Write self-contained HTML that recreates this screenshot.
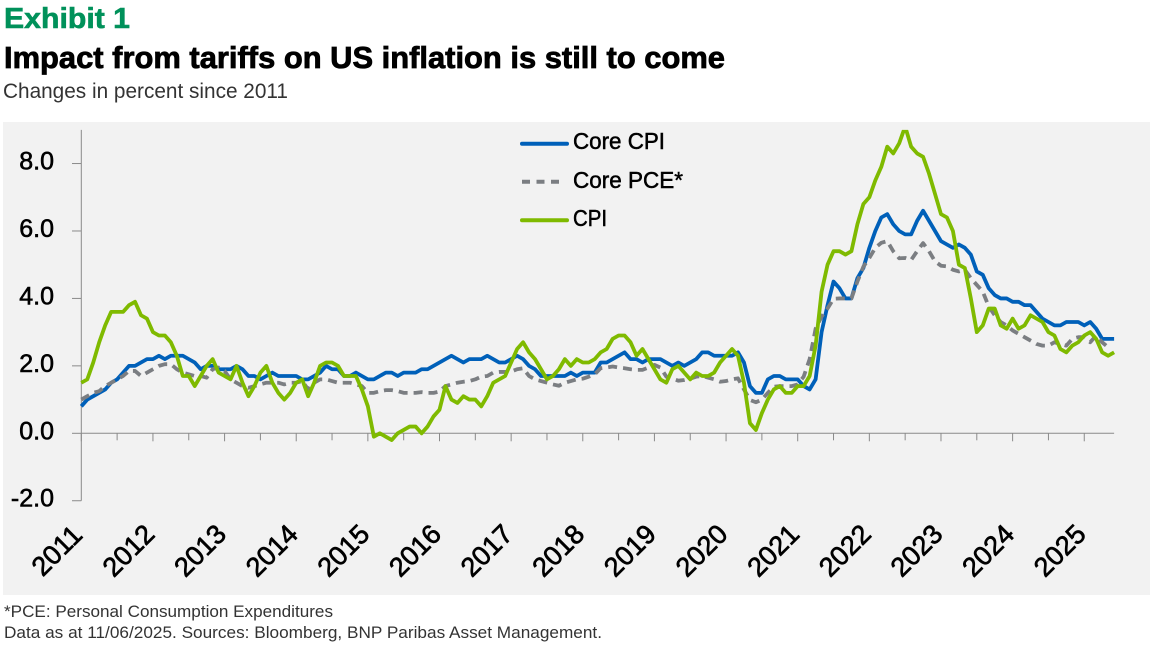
<!DOCTYPE html>
<html lang="en">
<head>
<meta charset="utf-8">
<title>Impact from tariffs on US inflation is still to come</title>
<style>
html,body{margin:0;padding:0;background:#fff;width:1153px;height:645px;overflow:hidden}
svg{display:block;font-family:"Liberation Sans",sans-serif}
</style>
</head>
<body>
<svg id="chart" xmlns="http://www.w3.org/2000/svg" width="1153" height="645" viewBox="0 0 1153 645">
  <text x="4" y="28" font-size="29" font-weight="700" fill="#00915a" stroke="#00915a" stroke-width="0.6" textLength="126" lengthAdjust="spacingAndGlyphs">Exhibit 1</text>
  <text x="4" y="68" font-size="31" font-weight="700" fill="#000" stroke="#000" stroke-width="0.8" textLength="721" lengthAdjust="spacingAndGlyphs">Impact from tariffs on US inflation is still to come</text>
  <text x="3" y="98" font-size="21" fill="#333" textLength="285" lengthAdjust="spacingAndGlyphs">Changes in percent since 2011</text>
  <rect x="3" y="122" width="1147" height="473" fill="#f2f2f2"/>
  <g id="axes"></g>
  <g id="series"></g>
  <g id="legend"></g>
  <text x="4" y="617" font-size="17" fill="#333" textLength="329" lengthAdjust="spacingAndGlyphs">*PCE: Personal Consumption Expenditures</text>
  <text x="4" y="638" font-size="17" fill="#333" textLength="598" lengthAdjust="spacingAndGlyphs">Data as at 11/06/2025. Sources: Bloomberg, BNP Paribas Asset Management.</text>
</svg>
<script>
const yearLabels = ["2011","2012","2013","2014","2015","2016","2017","2018","2019","2020","2021","2022","2023","2024","2025"];
const yTickValues = [8,6,4,2,0,-2];
const seriesNames = ["Core CPI","Core PCE*","CPI"];
const coreCpi = [0.8,
1.0,1.1,1.2,1.3,1.5,1.6,1.8,2.0,2.0,2.1,2.2,2.2,
2.3,2.2,2.3,2.3,2.3,2.2,2.1,1.9,2.0,2.0,1.9,1.9,
1.9,2.0,1.9,1.7,1.7,1.6,1.7,1.8,1.7,1.7,1.7,1.7,
1.6,1.6,1.7,1.8,2.0,1.9,1.9,1.7,1.7,1.8,1.7,1.6,
1.6,1.7,1.8,1.8,1.7,1.8,1.8,1.8,1.9,1.9,2.0,2.1,
2.2,2.3,2.2,2.1,2.2,2.2,2.2,2.3,2.2,2.1,2.1,2.2,
2.3,2.2,2.0,1.9,1.7,1.7,1.7,1.7,1.7,1.8,1.7,1.8,
1.8,1.8,2.1,2.1,2.2,2.3,2.4,2.2,2.2,2.1,2.2,2.2,
2.2,2.1,2.0,2.1,2.0,2.1,2.2,2.4,2.4,2.3,2.3,2.3,
2.3,2.4,2.1,1.4,1.2,1.2,1.6,1.7,1.7,1.6,1.6,1.6,
1.4,1.3,1.6,3.0,3.8,4.5,4.3,4.0,4.0,4.6,4.9,5.5,
6.0,6.4,6.5,6.2,6.0,5.9,5.9,6.3,6.6,6.3,6.0,5.7,
5.6,5.5,5.6,5.5,5.3,4.8,4.7,4.3,4.1,4.0,4.0,3.9,
3.9,3.8,3.8,3.6,3.4,3.3,3.2,3.2,3.3,3.3,3.3,3.2,
3.3,3.1,2.8,2.8,2.8];
const corePce = [1.0,
1.1,1.2,1.25,1.4,1.5,1.6,1.7,1.85,1.85,1.7,1.8,1.9,
2.0,2.05,2.05,1.9,1.8,1.75,1.7,1.7,1.65,1.9,1.95,1.85,
1.6,1.5,1.4,1.35,1.4,1.45,1.5,1.5,1.5,1.45,1.5,1.5,
1.55,1.3,1.5,1.6,1.6,1.55,1.5,1.5,1.5,1.45,1.4,1.2,
1.2,1.25,1.28,1.28,1.25,1.2,1.2,1.2,1.22,1.2,1.2,1.24,
1.4,1.45,1.5,1.53,1.55,1.6,1.68,1.7,1.8,1.82,1.82,1.83,
1.9,1.93,1.7,1.6,1.55,1.5,1.45,1.41,1.5,1.55,1.6,1.62,
1.68,1.75,1.93,1.95,1.98,1.95,1.93,1.9,1.88,1.88,1.95,2.03,
1.95,1.68,1.62,1.56,1.58,1.62,1.68,1.7,1.65,1.6,1.53,1.55,
1.6,1.63,1.3,0.99,0.92,1.0,1.2,1.38,1.4,1.4,1.4,1.45,
1.68,2.2,3.1,3.46,3.7,3.99,4.0,4.0,4.0,4.5,4.94,5.2,
5.5,5.65,5.7,5.4,5.19,5.2,5.14,5.4,5.64,5.4,5.1,4.97,
4.95,4.85,4.8,4.85,4.6,4.4,4.2,3.76,3.5,3.3,3.2,3.05,
2.95,2.85,2.75,2.65,2.6,2.6,2.7,2.65,2.6,2.8,2.85,2.85,
2.7,2.9,2.7,2.55];
const cpi = [1.5,
1.6,2.1,2.7,3.2,3.6,3.6,3.6,3.8,3.9,3.5,3.4,3.0,
2.9,2.9,2.7,2.3,1.7,1.7,1.4,1.7,2.0,2.2,1.8,1.7,
1.6,2.0,1.5,1.1,1.4,1.8,2.0,1.5,1.2,1.0,1.2,1.5,
1.6,1.1,1.5,2.0,2.1,2.1,2.0,1.7,1.7,1.7,1.3,0.8,
-0.1,0.0,-0.1,-0.2,0.0,0.1,0.2,0.2,0.0,0.2,0.5,0.7,
1.4,1.0,0.9,1.1,1.0,1.0,0.8,1.1,1.5,1.6,1.7,2.1,
2.5,2.7,2.4,2.2,1.9,1.6,1.7,1.9,2.2,2.0,2.2,2.1,
2.1,2.2,2.4,2.5,2.8,2.9,2.9,2.7,2.3,2.5,2.2,1.9,
1.6,1.5,1.9,2.0,1.8,1.6,1.8,1.7,1.7,1.8,2.1,2.3,
2.5,2.3,1.5,0.3,0.1,0.6,1.0,1.3,1.4,1.2,1.2,1.4,
1.4,1.7,2.6,4.2,5.0,5.4,5.4,5.3,5.4,6.2,6.8,7.0,
7.5,7.9,8.5,8.3,8.6,9.1,8.5,8.3,8.2,7.7,7.1,6.5,
6.4,6.0,5.0,4.9,4.0,3.0,3.2,3.7,3.7,3.2,3.1,3.4,
3.1,3.2,3.5,3.4,3.3,3.0,2.9,2.5,2.4,2.6,2.7,2.9,
3.0,2.8,2.4,2.3,2.4];

const NS = "http://www.w3.org/2000/svg";
const xScale = i => 81.3 + i * 5.97;
const yScale = v => 433.3 - v * 33.72;
const axisColor = "#8a8a8a";
const axes = document.getElementById("axes");
const seriesG = document.getElementById("series");
const legend = document.getElementById("legend");

function mk(tag, attrs, parent) {
  const el = document.createElementNS(NS, tag);
  for (const k in attrs) el.setAttribute(k, attrs[k]);
  parent.appendChild(el);
  return el;
}

const yAxis = mk("line", {x1:xScale(0), x2:xScale(0), y1:yScale(9), y2:yScale(-2), stroke:axisColor, "stroke-width":1}, axes);


const xAxis = mk("line", {x1:xScale(0), x2:xScale(173), y1:yScale(0), y2:yScale(0), stroke:axisColor, "stroke-width":1}, axes);



yTickValues.forEach(v => {
  const t = mk("line", {x1:72, x2:xScale(0), y1:yScale(v), y2:yScale(v), stroke:axisColor, "stroke-width":1}, axes);
  
  
  const l = mk("text", {x:54, y:yScale(v)+6, "text-anchor":"end", "font-size":25, fill:"#000", stroke:"#000", "stroke-width":0.6}, axes);
  l.textContent = v.toFixed(1);
  
  
});

yearLabels.forEach((yr, k) => {
  const i = k * 12;
  const tx = xScale(i);
  const t = mk("line", {x1:tx, x2:tx, y1:yScale(0), y2:yScale(0)+8, stroke:axisColor, "stroke-width":1}, axes);
  
  
  if (k < yearLabels.length - 1) {
    const mx = xScale(i + 6);
    const h = mk("line", {x1:mx, x2:mx, y1:yScale(0), y2:yScale(0)+7, stroke:axisColor, "stroke-width":1}, axes);
    
    
  }
  const cx = tx - 18, cy = 557;
  const l = mk("text", {x:cx, y:cy, "text-anchor":"middle", "font-size":27, fill:"#000", stroke:"#000", "stroke-width":0.7, transform:"rotate(-45 "+cx+" "+cy+")"}, axes);
  l.textContent = yr;
  
  
});

const defs = mk("defs", {}, seriesG);
const clip = mk("clipPath", {id:"plot-clip"}, defs);
mk("rect", {x:xScale(0)-2, y:yScale(9), width:xScale(173)-xScale(0)+4, height:yScale(-2)-yScale(9)}, clip);

function linePath(values) {
  return values.map((v, i) => (i ? "L" : "M") + xScale(i).toFixed(2) + " " + yScale(v).toFixed(2)).join("");
}

const coreCpiLine = mk("path", {d:linePath(coreCpi), fill:"none", stroke:"#0060b9", "stroke-width":3.8, "stroke-linejoin":"round", "clip-path":"url(#plot-clip)"}, seriesG);


const corePceLine = mk("path", {d:linePath(corePce), fill:"none", stroke:"#7b7e82", "stroke-width":3.8, "stroke-dasharray":"9 6", "stroke-linejoin":"round", "clip-path":"url(#plot-clip)"}, seriesG);


const cpiLine = mk("path", {d:linePath(cpi), fill:"none", stroke:"#7fba00", "stroke-width":3.8, "stroke-linejoin":"round", "clip-path":"url(#plot-clip)"}, seriesG);



const k1 = mk("line", {x1:522, x2:567, y1:143.7, y2:143.7, stroke:"#0060b9", "stroke-width":4, "stroke-linecap":"round"}, legend);


const k2 = mk("line", {x1:522, x2:564, y1:181.7, y2:181.7, stroke:"#7b7e82", "stroke-width":4, "stroke-dasharray":"8 6.5", "stroke-linecap":"butt"}, legend);


const k3 = mk("line", {x1:522, x2:567, y1:220.3, y2:220.3, stroke:"#7fba00", "stroke-width":4, "stroke-linecap":"round"}, legend);



const t1 = mk("text", {x:573, y:149, "font-size":23, fill:"#000", stroke:"#000", "stroke-width":0.5, textLength:92, lengthAdjust:"spacingAndGlyphs"}, legend);
t1.textContent = seriesNames[0];


const t2 = mk("text", {x:573, y:188, "font-size":23, fill:"#000", stroke:"#000", "stroke-width":0.5, textLength:110, lengthAdjust:"spacingAndGlyphs"}, legend);
t2.textContent = seriesNames[1];


const t3 = mk("text", {x:573, y:226, "font-size":23, fill:"#000", stroke:"#000", "stroke-width":0.5, textLength:34, lengthAdjust:"spacingAndGlyphs"}, legend);
t3.textContent = seriesNames[2];


</script>
</body>
</html>
